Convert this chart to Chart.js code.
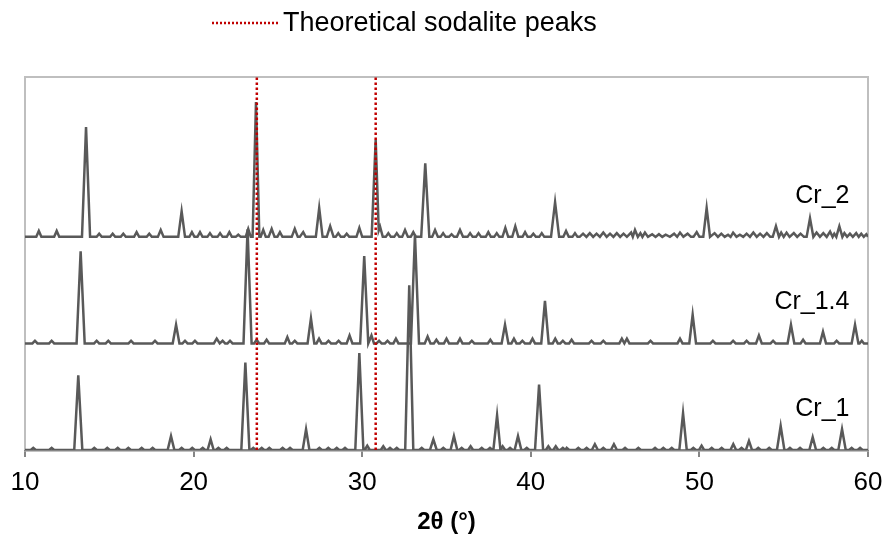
<!DOCTYPE html>
<html>
<head>
<meta charset="utf-8">
<script src="https://cdn.jsdelivr.net/npm/chart.js@4.4.0/dist/chart.umd.min.js"></script>
<style>
    html, body { margin: 0; padding: 0; background: #fff; }
    #wrap { width: 883px; height: 537px; position: relative; }
</style>
</head>
<body>
<div id="wrap"><canvas id="graph"></canvas></div>
<script>
// Диффрактограммы: [2θ, интенсивность над базовой линией]
const cr1Points = [
    [10,0],[10.34,0],[10.49,20],[10.64,0],[11.43,0],[11.58,20],[11.73,0],
    [12.92,0],[13.16,700],[13.4,0],[13.96,0],[14.11,20],[14.26,0],
    [14.73,0],[14.88,20],[15.03,0],[15.35,0],[15.5,20],[15.65,0],
    [15.98,0],[16.13,20],[16.28,0],[16.77,0],[16.92,20],[17.07,0],
    [17.42,0],[17.57,20],[17.72,0],[18.46,0],[18.66,130],[18.86,0],
    [19.14,0],[19.29,20],[19.44,0],[19.77,0],[19.92,20],[20.07,0],
    [20.39,0],[20.54,20],[20.69,0],[20.83,0],[21.01,100],[21.19,0],
    [21.32,0],[21.47,20],[21.62,0],[21.81,0],[21.96,20],[22.11,0],
    [22.83,0],[23.07,820],[23.31,0],[23.39,0],[23.54,20],[23.69,0],
    [23.89,0],[24.04,20],[24.19,0],[24.34,0],[24.49,20],[24.64,0],
    [25.13,0],[25.28,20],[25.43,0],[25.57,0],[25.72,20],[25.87,0],
    [26.47,0],[26.67,195],[26.87,0],[27.31,0],[27.46,20],[27.61,0],
    [27.84,0],[27.99,20],[28.14,0],[28.34,0],[28.49,20],[28.64,0],
    [28.83,0],[28.98,20],[29.13,0],[29.59,0],[29.83,910],[30.07,0],
    [30.15,0],[30.3,40],[30.45,0],[31.1,0],[31.25,35],[31.4,0],
    [31.5,0],[31.65,20],[31.8,0],[31.9,0],[32.05,20],[32.2,0],
    [32.55,0],[32.79,1545],[33.03,0],[33.38,0],[33.53,20],[33.68,0],
    [34.02,0],[34.22,100],[34.42,0],[34.66,0],[34.81,20],[34.96,0],
    [35.24,0],[35.44,130],[35.64,0],[35.75,0],[35.9,20],[36.05,0],
    [36.28,0],[36.43,35],[36.58,0],[36.94,0],[37.09,20],[37.24,0],
    [37.43,0],[37.58,20],[37.73,0],[37.78,0],[38.0,325],[38.2,0],
    [38.33,35],[38.48,0],[38.62,0],[38.77,20],[38.92,0],
    [39.04,0],[39.24,130],[39.44,0],[39.61,0],[39.76,20],[39.91,0],
    [40.25,0],[40.49,615],[40.73,0],[40.89,0],[41.04,35],[41.19,0],
    [41.33,0],[41.48,35],[41.63,0],[41.75,0],[41.9,20],[42.05,0],
    [42.13,20],[42.28,0],[42.67,0],[42.82,20],[42.97,0],
    [43.16,0],[43.31,20],[43.46,0],[43.62,0],[43.8,55],[43.98,0],
    [44.15,0],[44.3,20],[44.45,0],[44.75,0],[44.93,55],[45.11,0],
    [45.44,0],[45.59,20],[45.74,0],[46.23,0],[46.38,20],[46.53,0],
    [47.22,0],[47.37,20],[47.52,0],[47.71,0],[47.86,20],[48.01,0],
    [48.21,0],[48.36,20],[48.51,0],[48.81,0],[49.03,345],[49.25,0],
    [49.49,0],[49.64,20],[49.79,0],[49.98,0],[50.13,40],[50.28,0],
    [50.58,0],[50.73,20],[50.88,0],[51.17,0],[51.32,20],[51.47,0],
    [51.84,0],[52.01,55],[52.18,0],[52.35,0],[52.5,20],[52.65,0],
    [52.76,0],[52.94,85],[53.12,0],[53.34,0],[53.49,20],[53.64,0],
    [53.99,0],[54.14,20],[54.29,0],[54.6,0],[54.82,225],[55.04,0],
    [55.22,0],[55.37,20],[55.52,0],[55.82,0],[55.97,20],[56.12,0],
    [56.52,0],[56.72,120],[56.92,0],[57.2,0],[57.35,20],[57.5,0],
    [57.7,0],[57.85,20],[58.0,0],[58.24,0],[58.46,195],[58.68,0],
    [58.88,0],[59.03,20],[59.18,0],[59.38,0],[59.53,20],[59.68,0],[60,0]
];

const cr14Points = [
    [10,0],[10.44,0],[10.59,25],[10.74,0],[11.43,0],[11.58,25],[11.73,0],
    [13.06,0],[13.3,865],[13.54,0],[14.1,0],[14.25,25],[14.4,0],
    [14.79,0],[14.94,25],[15.09,0],[16.14,0],[16.29,25],[16.44,0],
    [17.56,0],[17.71,25],[17.86,0],[18.76,0],[18.96,175],[19.16,0],
    [19.34,0],[19.49,25],[19.64,0],[19.93,0],[20.08,25],[20.23,0],
    [21.2,0],[21.37,45],[21.55,0],[21.72,25],[21.87,0],
    [22.01,0],[22.16,25],[22.31,0],[22.96,0],[23.2,1070],[23.44,0],
    [23.59,0],[23.74,35],[23.89,0],[24.18,0],[24.33,35],[24.48,0],
    [25.41,0],[25.56,60],[25.71,0],[25.85,0],[26.0,25],[26.15,0],
    [26.76,0],[26.96,235],[27.16,0],[27.29,0],[27.44,45],[27.59,0],
    [27.85,0],[28.0,25],[28.15,0],[28.45,0],[28.6,25],[28.75,0],
    [29.08,0],[29.25,75],[29.42,0],[29.88,0],[30.12,820],[30.36,0],
    [30.4,0],[30.55,75],[30.7,0],[30.85,0],[31.0,25],[31.15,0],
    [31.35,0],[31.5,25],[31.65,0],[31.85,0],[32.0,45],[32.15,0],
    [32.89,0],[33.13,1020],[33.37,0],[33.71,0],[33.88,65],[34.05,0],
    [34.25,0],[34.4,35],[34.55,0],[34.85,0],[35.0,45],[35.15,0],
    [35.65,0],[35.8,45],[35.95,0],[36.35,0],[36.5,25],[36.65,0],
    [37.45,0],[37.6,35],[37.75,0],[38.27,0],[38.47,175],[38.67,0],
    [38.85,0],[39.0,45],[39.15,0],[39.35,0],[39.5,25],[39.65,0],
    [39.95,0],[40.1,45],[40.25,0],[40.62,0],[40.84,400],[41.06,0],
    [41.3,0],[41.45,45],[41.6,0],[41.75,0],[41.9,25],[42.05,0],
    [42.27,0],[42.42,35],[42.57,0],[43.45,0],[43.6,25],[43.75,0],
    [44.15,0],[44.3,25],[44.45,0],[45.25,0],[45.4,45],[45.55,0],
    [45.7,45],[45.85,0],[46.95,0],[47.1,25],[47.25,0],
    [48.7,0],[48.85,45],[49.0,0],[49.4,0],[49.6,270],[49.8,0],
    [50.65,0],[50.8,25],[50.95,0],[51.85,0],[52.0,25],[52.15,0],
    [52.65,0],[52.8,25],[52.95,0],[53.36,0],[53.53,75],[53.7,0],
    [54.22,0],[54.37,25],[54.52,0],[55.23,0],[55.43,175],[55.63,0],
    [56.0,0],[56.15,35],[56.3,0],[57.15,0],[57.33,110],[57.51,0],
    [57.99,0],[58.14,25],[58.29,0],[59.03,0],[59.23,175],[59.43,0],
    [59.5,0],[59.63,25],[59.76,0],[60,0]
];

const cr2Points = [
    [10,0],[10.67,0],[10.82,55],[10.97,0],[11.73,0],[11.88,55],[12.03,0],
    [13.38,0],[13.62,1030],[13.86,0],[14.25,0],[14.4,30],[14.55,0],
    [15.05,0],[15.2,30],[15.35,0],[15.68,0],[15.83,30],[15.98,0],
    [16.47,0],[16.62,45],[16.77,0],[17.22,0],[17.37,30],[17.52,0],
    [17.88,0],[18.05,65],[18.22,0],[19.09,0],[19.29,240],[19.49,0],
    [19.75,0],[19.9,45],[20.05,0],[20.23,0],[20.38,45],[20.53,0],
    [20.82,0],[20.97,35],[21.12,0],[21.42,0],[21.57,35],[21.72,0],
    [21.97,0],[22.12,45],[22.27,0],[22.5,0],[22.65,20],[22.8,0],
    [23.09,0],[23.24,75],[23.39,0],[23.5,0],[23.7,1265],[23.9,0],
    [23.98,0],[24.13,65],[24.28,0],[24.45,0],[24.63,75],[24.8,0],
    [24.97,0],[25.12,45],[25.27,0],[25.82,0],[26.0,75],[26.18,0],
    [26.3,0],[26.5,45],[26.65,0],[27.25,0],[27.45,270],[27.65,0],
    [27.9,0],[28.1,100],[28.3,0],[28.43,0],[28.58,35],[28.73,0],
    [28.93,0],[29.08,30],[29.23,0],[29.66,0],[29.83,85],[30.0,0],
    [30.56,0],[30.8,910],[30.98,60],[31.06,95],[31.22,0],
    [31.4,0],[31.55,35],[31.7,0],[31.9,0],[32.05,35],[32.2,0],
    [32.37,0],[32.54,65],[32.71,0],[32.88,0],[33.03,45],[33.18,0],
    [33.5,0],[33.74,690],[33.98,0],[34.15,0],[34.32,65],[34.49,0],
    [34.65,0],[34.8,35],[34.95,0],[35.15,0],[35.3,25],[35.45,0],
    [35.62,0],[35.8,65],[35.98,0],[36.25,0],[36.4,35],[36.55,0],
    [36.75,0],[36.9,35],[37.05,0],[37.33,0],[37.48,45],[37.63,0],
    [37.83,0],[37.98,35],[38.13,0],[38.32,0],[38.49,85],[38.66,0],
    [38.9,0],[39.08,100],[39.26,0],[39.51,0],[39.66,45],[39.81,0],
    [40.0,0],[40.15,30],[40.3,0],[40.5,0],[40.65,35],[40.8,0],
    [41.2,0],[41.44,325],[41.68,0],[41.93,0],[42.09,55],[42.25,0],
    [42.47,0],[42.62,35],[42.77,0],[42.9,0],[43.1,30],[43.3,0],
    [43.5,35],[43.7,0],[43.9,30],[44.1,0],[44.3,40],[44.5,0],
    [44.7,30],[44.9,0],[45.1,35],[45.3,0],[45.5,30],[45.7,0],
    [45.95,40],[46.05,0],[46.18,65],[46.35,0],[46.5,35],[46.62,0],
    [46.77,40],[46.95,0],[47.2,25],[47.4,0],[47.6,25],[47.8,0],
    [48.0,20],[48.25,0],[48.5,30],[48.68,0],[48.85,40],[49.05,0],
    [49.3,30],[49.5,0],[49.65,0],[49.84,45],[50.0,0],[50.23,0],
    [50.43,270],[50.63,0],[50.9,35],[51.1,0],[51.3,30],[51.5,0],
    [51.7,20],[51.85,0],[52.0,40],[52.2,0],[52.4,20],[52.6,0],
    [52.8,30],[53.0,0],[53.2,40],[53.4,0],[53.6,30],[53.8,0],
    [54.0,35],[54.2,0],[54.35,0],[54.54,100],[54.72,0],[54.85,40],
    [55.0,0],[55.17,40],[55.35,0],[55.6,35],[55.8,0],[56.0,30],
    [56.2,0],[56.36,0],[56.56,175],[56.76,0],[56.95,40],[57.15,0],
    [57.35,35],[57.55,0],[57.75,50],[57.9,0],[58.0,30],[58.12,0],
    [58.3,100],[58.48,0],[58.6,35],[58.76,0],[58.93,30],[59.1,0],
    [59.3,35],[59.45,0],[59.6,30],[59.75,0],[59.9,25],[60,0]
];

const seriesNames = ['Cr_1', 'Cr_1.4', 'Cr_2'];
const seriesOffsets = [0, 1000, 2000];
const sodalitePeaks = [23.75, 30.8];
const xTicks = [10, 20, 30, 40, 50, 60];
const legendText = 'Theoretical sodalite peaks';
const axisTitle = '2θ (°)';

const FONT = 'Arial, "Liberation Sans", sans-serif';
const Y_MAX = 3500;

// Наборы данных
var datasets = [];
sodalitePeaks.forEach((t) => {
    datasets.push({
        data: [{ x: t, y: 0 }, { x: t, y: Y_MAX }],
        borderColor: '#C00000',
        borderWidth: 2.5,
        borderDash: [2.5, 2.5],
        pointRadius: 0
    });
});
[cr1Points, cr14Points, cr2Points].forEach((pts, i) => {
    datasets.push({
        label: seriesNames[i],
        data: pts.map(([t, c]) => ({ x: t, y: c + seriesOffsets[i] })),
        borderColor: '#595959',
        borderWidth: 2.5,
        pointRadius: 0,
        tension: 0
    });
});

// Рамка, подписи рядов и легенда
const framePlugin = {
    id: 'frame',
    beforeDatasetsDraw(chart) {
        const { ctx, chartArea: a } = chart;
        ctx.save();
        ctx.strokeStyle = '#BFBFBF';
        ctx.lineWidth = 2;
        ctx.beginPath();
        ctx.moveTo(a.left, a.bottom);
        ctx.lineTo(a.left, a.top);
        ctx.lineTo(a.right, a.top);
        ctx.lineTo(a.right, a.bottom);
        ctx.stroke();
        ctx.restore();
    }
};

const labelsPlugin = {
    id: 'seriesLabels',
    afterDatasetsDraw(chart) {
        const { ctx, scales } = chart;
        ctx.save();
        ctx.fillStyle = '#000';
        ctx.font = '25px ' + FONT;
        ctx.textAlign = 'right';
        ctx.textBaseline = 'alphabetic';
        seriesNames.forEach((name, i) => {
            ctx.fillText(name, scales.x.getPixelForValue(58.9), scales.y.getPixelForValue(seriesOffsets[i] + 320));
        });
        ctx.restore();
    }
};

const legendPlugin = {
    id: 'topLegend',
    afterDraw(chart) {
        const ctx = chart.ctx;
        ctx.save();
        ctx.strokeStyle = '#C00000';
        ctx.lineWidth = 2.5;
        ctx.setLineDash([2, 2]);
        ctx.beginPath();
        ctx.moveTo(212, 23);
        ctx.lineTo(280, 23);
        ctx.stroke();
        ctx.setLineDash([]);
        ctx.fillStyle = '#000';
        ctx.font = '27px ' + FONT;
        ctx.textBaseline = 'alphabetic';
        ctx.fillText(legendText, 283, 31);
        ctx.restore();
    }
};

var ctx = document.getElementById('graph').getContext('2d');
var Graph = new Chart(ctx, {
    type: 'line',
    data: { datasets: datasets },
    options: {
        responsive: true,
        maintainAspectRatio: false,
        animation: false,
        devicePixelRatio: 1,
        layout: { padding: { top: 77, left: 25, right: 15, bottom: 0 } },
        plugins: { legend: { display: false }, tooltip: { enabled: false } },
        scales: {
            x: {
                type: 'linear',
                min: 10,
                max: 60,
                afterBuildTicks: (axis) => { axis.ticks = xTicks.map(v => ({ value: v })); },
                afterFit: (axis) => { axis.paddingLeft = 0; axis.paddingRight = 0; },
                ticks: { color: '#000', font: { family: FONT, size: 26 }, padding: 10, maxRotation: 0 },
                grid: { drawOnChartArea: false, drawTicks: true, tickLength: 7, color: '#868686', lineWidth: 2 },
                border: { color: '#868686', width: 2.5 },
                title: {
                    display: true,
                    text: axisTitle,
                    color: '#000',
                    font: { family: FONT, size: 24, weight: 'bold' },
                    padding: { top: 0, bottom: 0 }
                }
            },
            y: { display: false, min: 0, max: Y_MAX }
        }
    },
    plugins: [framePlugin, labelsPlugin, legendPlugin]
});
</script>
</body>
</html>
